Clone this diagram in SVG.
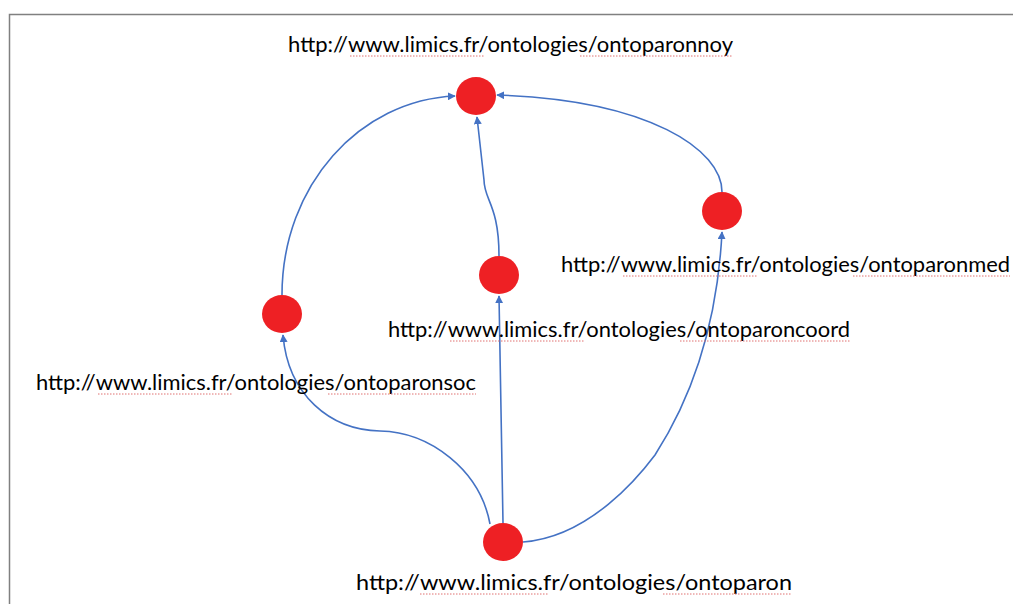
<svg xmlns="http://www.w3.org/2000/svg" width="1013" height="604" viewBox="0 0 1013 604">
<defs>
<marker id="arr" viewBox="0 0 10 10" refX="9" refY="5" markerWidth="8" markerHeight="8" markerUnits="userSpaceOnUse" orient="auto">
<path d="M0,0 L10,5 L0,10 z" fill="#4472C4"/>
</marker>
</defs>
<style>
.node{fill:#EE2024;}
.lbl{font-family:Lato,"Liberation Sans",Arial,sans-serif;font-size:21px;fill:#000;}
.edge{fill:none;stroke:#4472C4;stroke-width:1.6;marker-end:url(#arr);}
.sp{fill:none;stroke:#E07070;stroke-width:1;stroke-dasharray:1.5,1.5;}
</style>
<rect x="0" y="0" width="1013" height="604" fill="#fff"/>
<path d="M9.5,604 L9.5,14.5 L1013,14.5" fill="none" stroke="#808080" stroke-width="1.5"/>
<g id="connectors">
<path class="edge" d="M282,295 C282,185 360,100 455,96"/>
<path class="edge" d="M499,256 C499,205 484,200 484,180 L477,117"/>
<path class="edge" d="M722,192 C722,150 650,100 497,95"/>
<path class="edge" d="M490,524 C480,470 430,432 380,431 C330,430 288,395 283,335"/>
<path class="edge" d="M503,523 L501,410 L499,296"/>
<path class="edge" d="M523,542 C590,537 640,475 655,455 C700,385 718,310 722,232"/>
</g>
<g id="n-ontoparonnoy">
<ellipse class="node" cx="476" cy="96" rx="20" ry="19"/>
<text class="lbl" x="288" y="52" textLength="445" lengthAdjust="spacingAndGlyphs">http://www.limics.fr/ontologies/ontoparonnoy</text>
<path class="sp" d="M350,56 L485,56 M580,56 L733,56"/>
</g>
<g id="n-ontoparonmed">
<ellipse class="node" cx="722" cy="211" rx="20" ry="19"/>
<text class="lbl" x="561" y="272" textLength="449" lengthAdjust="spacingAndGlyphs">http://www.limics.fr/ontologies/ontoparonmed</text>
<path class="sp" d="M623,276 L758,276 M853,276 L1010,276"/>
</g>
<g id="n-ontoparoncoord">
<ellipse class="node" cx="499" cy="275" rx="20" ry="19"/>
<text class="lbl" x="388" y="337" textLength="462" lengthAdjust="spacingAndGlyphs">http://www.limics.fr/ontologies/ontoparoncoord</text>
<path class="sp" d="M450,341 L585,341 M680,341 L850,341"/>
</g>
<g id="n-ontoparonsoc">
<ellipse class="node" cx="282" cy="314" rx="20" ry="19"/>
<text class="lbl" x="36" y="390" textLength="440" lengthAdjust="spacingAndGlyphs">http://www.limics.fr/ontologies/ontoparonsoc</text>
<path class="sp" d="M98,394 L233,394 M328,394 L476,394"/>
</g>
<g id="n-ontoparon">
<ellipse class="node" cx="503" cy="542" rx="20" ry="19"/>
<text class="lbl" x="356" y="590" textLength="436" lengthAdjust="spacingAndGlyphs">http://www.limics.fr/ontologies/ontoparon</text>
<path class="sp" d="M420,594 L548,594 M663,594 L792,594"/>
</g>
</svg>
